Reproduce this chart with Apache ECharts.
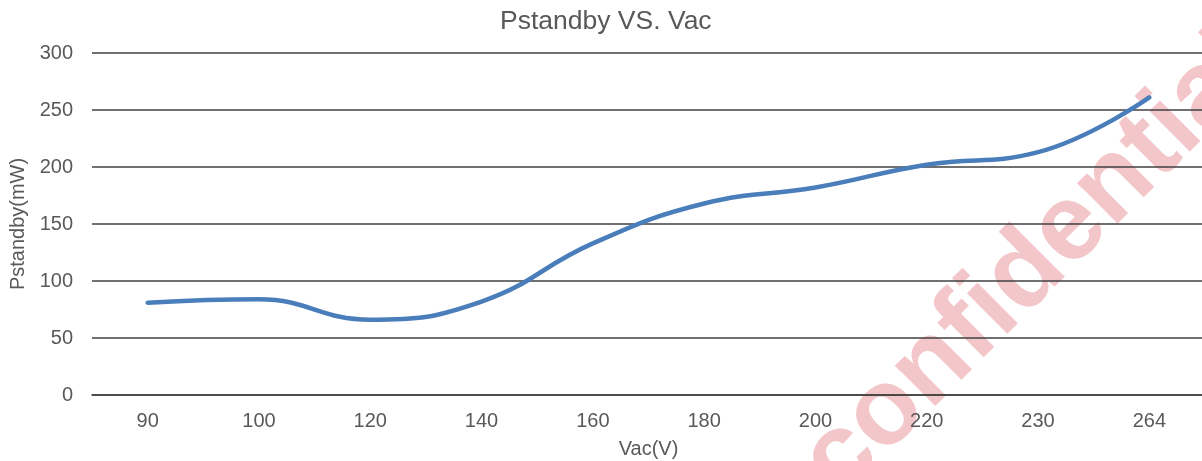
<!DOCTYPE html>
<html>
<head>
<meta charset="utf-8">
<script src="https://cdn.jsdelivr.net/npm/echarts@6/dist/echarts.min.js"></script>
<style>
  html, body { margin: 0; padding: 0; background: #ffffff; }
  #chart { width: 1202px; height: 461px; }
</style>
</head>
<body>
<div id="chart"></div>
<script>
// Standby power measured at each AC input voltage
const vacLabels = ['90', '100', '120', '140', '160', '180', '200', '220', '230', '264'];
const pstandby = [81, 84, 66, 82, 133, 168, 182, 202, 213, 261];
const yTicks = { min: 0, max: 300, interval: 50 };

const textGray = '#595959';
const gridDark = '#404040';
const fontFamily = '"Liberation Sans", Arial, sans-serif';

const chart = echarts.init(document.getElementById('chart'), null, { renderer: 'canvas' });

chart.setOption({
  animation: false,
  backgroundColor: '#ffffff',
  title: {
    text: 'Pstandby VS. Vac',
    left: 495,
    top: 3,
    textStyle: { color: textGray, fontSize: 26.5, fontWeight: 'normal', fontFamily: fontFamily }
  },
  grid: { left: 92, top: 53, width: 1113, height: 342, containLabel: false, outerBoundsMode: 'none' },
  xAxis: {
    type: 'category',
    data: vacLabels,
    boundaryGap: true,
    name: 'Vac(V)',
    nameLocation: 'middle',
    nameGap: 44,
    nameTextStyle: { color: textGray, fontSize: 20, fontFamily: fontFamily },
    axisLine: { show: true, lineStyle: { color: gridDark, width: 1.5 } },
    axisTick: { show: false },
    axisLabel: { color: textGray, fontSize: 20, fontFamily: fontFamily, margin: 16 },
    splitLine: { show: false }
  },
  yAxis: {
    type: 'value',
    min: yTicks.min,
    max: yTicks.max,
    interval: yTicks.interval,
    name: 'Pstandby(mW)',
    nameLocation: 'middle',
    nameGap: 63,
    nameRotate: 90,
    nameTextStyle: { color: textGray, fontSize: 20, fontFamily: fontFamily },
    axisLine: { show: false },
    axisTick: { show: false },
    axisLabel: { color: textGray, fontSize: 20, fontFamily: fontFamily, margin: 19 },
    splitLine: { show: true, lineStyle: { color: gridDark, width: 1.5 } }
  },
  graphic: [{
    type: 'text',
    z: -10,
    x: 1034,
    y: 265,
    rotation: 45 * Math.PI / 180,
    silent: true,
    style: {
      text: 'confidential',
      fill: '#f3c6ca',
      font: 'bold 108px "Liberation Sans", Arial, sans-serif',
      textAlign: 'center',
      textVerticalAlign: 'middle'
    }
  }],
  series: [{
    type: 'line',
    data: pstandby,
    smooth: 0.45,
    showSymbol: false,
    symbol: 'none',
    lineStyle: { color: '#4a7ebb', width: 4.5, cap: 'round' },
    z: 5
  }]
});
</script>
</body>
</html>
